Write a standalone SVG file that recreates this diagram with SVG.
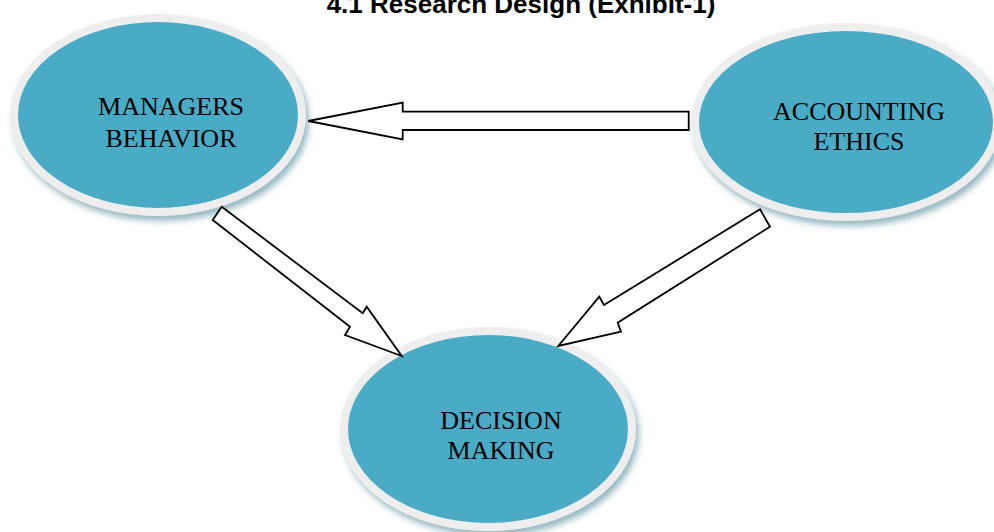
<svg xmlns="http://www.w3.org/2000/svg" width="994" height="532" viewBox="0 0 994 532">
<defs>
<filter id="sh" x="-10%" y="-10%" width="125%" height="130%">
<feDropShadow dx="3" dy="5" stdDeviation="3" flood-color="#3f7f92" flood-opacity="0.55"/>
</filter>
<style>
.node{fill:#4aabc6;stroke:#eeeeee;stroke-width:8;filter:url(#sh)}
.lbl{font-family:"Liberation Serif","Times New Roman",serif;font-size:26px;fill:#000;text-anchor:middle}
.arr{fill:#fff;stroke:#000;stroke-width:1.8;stroke-linejoin:miter}
.title{font-family:"Liberation Sans",Arial,sans-serif;font-weight:bold;font-size:26px;fill:#000;text-anchor:middle}
</style>
</defs>
<rect width="994" height="532" fill="#fff"/>
<text class="title" x="521" y="13">4.1 Research Design (Exhibit-1)</text>
<g id="managers">
<ellipse class="node" cx="158" cy="115" rx="144" ry="97"/>
<text class="lbl" x="171" y="115">MANAGERS</text>
<text class="lbl" x="171" y="147">BEHAVIOR</text>
</g>
<g id="accounting">
<ellipse class="node" cx="846" cy="122" rx="151" ry="95"/>
<text class="lbl" x="859" y="120">ACCOUNTING</text>
<text class="lbl" x="859" y="150">ETHICS</text>
</g>
<g id="decision">
<ellipse class="node" cx="488" cy="429" rx="144" ry="98"/>
<text class="lbl" x="501" y="429">DECISION</text>
<text class="lbl" x="501" y="459">MAKING</text>
</g>
<g id="connectors">
<polygon class="arr" points="308.3,121 402.7,102.7 402.7,111.7 688.7,111.7 688.7,130 402.7,130 402.7,139.3"/>
<polygon class="arr" points="221.7,206.7 362.7,313.3 366.7,306.7 401.7,356 345,335 350,326.7 212.7,220"/>
<polygon class="arr" points="760,209.3 770,226.7 617.7,322.7 621,331.7 558.3,346 599.3,296.7 604,305"/>
</g>
</svg>
